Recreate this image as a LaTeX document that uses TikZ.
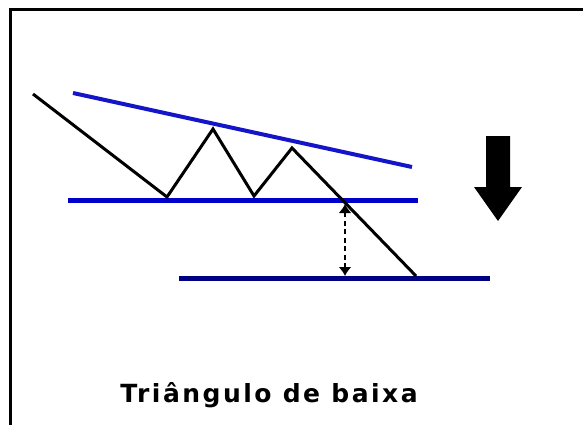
\documentclass[tikz,border=0pt]{standalone}
\usepackage{fontspec}
\newfontfamily\capfont[LetterSpace=10]{DejaVu Sans}
\usetikzlibrary{arrows.meta}
\definecolor{trendblue}{RGB}{20,20,200}
\definecolor{suppblue}{RGB}{0,0,205}
\definecolor{targetblue}{RGB}{0,0,130}
\begin{document}
\begin{tikzpicture}[x=1pt,y=-1pt,
  frame/.style={line width=3pt},
  trend/.style={line width=4pt,trendblue},
  support/.style={line width=5pt,suppblue},
  target/.style={line width=5pt,targetblue},
  price/.style={line width=3pt,line join=miter},
  gap/.style={line width=2.5pt,dash pattern=on 5pt off 3.5pt,{Latex[length=9pt,width=13pt]}-{Latex[length=9pt,width=13pt]}},
  bigarrow/.style={fill=black}]
  \useasboundingbox (0,0) rectangle (583,425);
  \fill[white] (0,0) rectangle (583,425);
  % frame (top and left edge only)
  \draw[frame] (10.5,10) -- (583,10);
  \draw[frame] (10.5,8.5) -- (10.5,425);
  % trend lines
  \coordinate (t1) at (73,93);
  \coordinate (t2) at (412,167);
  \coordinate (s1) at (68,200);
  \coordinate (s2) at (418,200);
  \coordinate (b1) at (179,278);
  \coordinate (b2) at (490,278);
  \draw[trend] (t1) -- (t2);
  \draw[support] (s1) -- (s2);
  \draw[target] (b1) -- (b2);
  % price
  \coordinate (p0) at (33,94);
  \coordinate (p1) at (167,197);
  \coordinate (p2) at (213,129);
  \coordinate (p3) at (254,196);
  \coordinate (p4) at (292,148);
  \coordinate (p5) at (416,276);
  \draw[price] (p0) -- (p1) -- (p2) -- (p3) -- (p4) -- (p5);
  % projected move
  \coordinate (g1) at (345,204);
  \coordinate (g2) at (345,276);
  \draw[gap] (g1) -- (g2);
  % big arrow
  \fill[bigarrow] (486,136) -- (510,136) -- (510,187) -- (522,187) -- (498,221)
    -- (474,187) -- (486,187) -- cycle;
  \node[anchor=base,inner sep=0pt,font=\capfont\bfseries\fontsize{25}{28}\selectfont] (title) at (269,402) {Triângulo de baixa};
\end{tikzpicture}
\end{document}
